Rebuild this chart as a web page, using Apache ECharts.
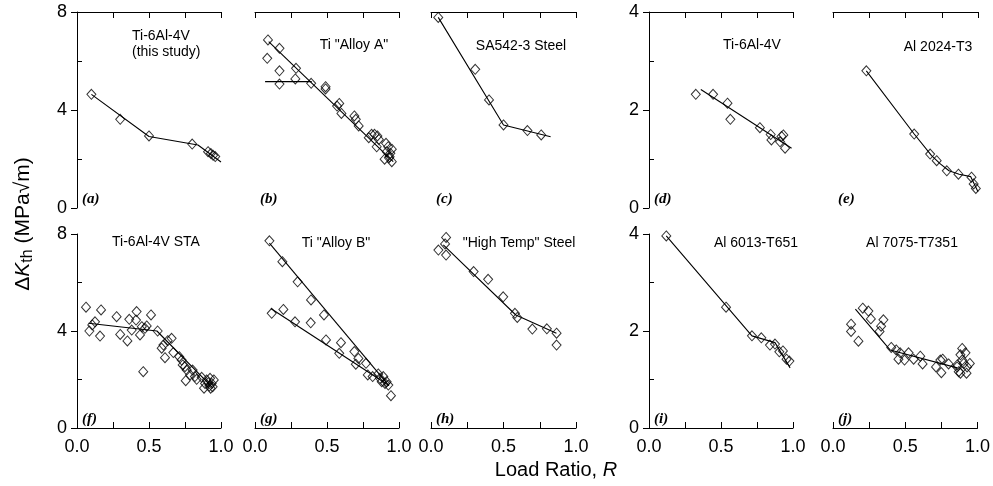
<!DOCTYPE html>
<html>
<head>
<meta charset="utf-8">
<script src="https://cdn.jsdelivr.net/npm/echarts@6/dist/echarts.min.js"></script>
<style>
  html, body { margin: 0; padding: 0; background: #fff; }
  #chart { width: 993px; height: 486px; }
</style>
</head>
<body>
<div id="chart"></div>
<script>
// Threshold stress-intensity range vs. load ratio for ten alloys (a)-(j)

// x tick labels (shared by all panels)
const xTicks = ['0.0', '0.5', '1.0'];

// (a) Ti-6Al-4V (this study)
const ptsA = [[0.10,4.64],[0.30,3.62],[0.50,2.94],[0.80,2.61],[0.91,2.30],[0.93,2.22],[0.945,2.15],[0.96,2.10]];
const fitA = [[0.10,4.64],[0.50,2.92],[0.84,2.57],[1.00,1.88]];

// (b) Ti "Alloy A"
const ptsB = [[0.09,6.86],[0.17,6.52],[0.085,6.11],[0.17,5.60],[0.285,5.70],[0.17,5.06],[0.28,5.27],[0.39,5.09],
  [0.49,4.95],[0.49,4.86],[0.585,4.27],[0.57,4.16],[0.60,3.86],[0.69,3.76],[0.70,3.62],[0.72,3.35],[0.79,2.87],
  [0.81,3.01],[0.83,3.01],[0.845,2.50],[0.85,2.94],[0.86,2.80],[0.91,2.64],[0.925,2.50],[0.915,2.30],[0.94,2.23],
  [0.90,1.99],[0.95,1.89],[0.935,2.09],[0.95,2.40],[0.93,2.05]];
const fitB1 = [[0.095,6.79],[0.96,1.89]];
const fitB2 = [[0.07,5.16],[0.394,5.16]];

// (c) SA542-3 Steel
const ptsC = [[0.05,7.78],[0.305,5.66],[0.40,4.41],[0.50,3.39],[0.665,3.16],[0.76,2.98]];
const fitC = [[0.05,7.78],[0.50,3.39],[0.825,2.91]];

// (d) Ti-6Al-4V
const ptsD = [[0.325,2.32],[0.445,2.32],[0.545,2.14],[0.565,1.81],[0.77,1.64],[0.845,1.50],[0.85,1.39],
  [0.92,1.46],[0.933,1.49],[0.91,1.35],[0.945,1.22]];
const fitD = [[0.36,2.42],[0.99,1.22]];

// (e) Al 2024-T3
const ptsE = [[0.23,2.80],[0.56,1.51],[0.67,1.10],[0.715,0.965],[0.785,0.76],[0.865,0.69],[0.955,0.63],[0.97,0.49],[0.985,0.40]];
const fitE = [[0.23,2.80],[0.56,1.51],[0.68,1.07],[0.74,0.90],[0.80,0.76],[0.87,0.69],[0.95,0.64],[1.00,0.33]];

// (f) Ti-6Al-4V STA
const ptsF = [[0.0625,4.98],[0.086,4.00],[0.125,4.38],[0.106,4.25],[0.167,4.87],[0.16,3.79],[0.275,4.59],[0.30,3.86],
  [0.35,3.59],[0.363,4.48],[0.38,4.04],[0.414,4.80],[0.41,4.45],[0.4375,3.84],[0.45,4.18],[0.46,2.32],[0.472,4.11],
  [0.484,4.21],[0.514,4.66],[0.56,4.00],[0.588,3.29],[0.60,3.42],[0.611,2.90],[0.63,3.60],[0.657,3.70],[0.669,3.11],
  [0.71,2.94],[0.727,2.80],[0.734,2.60],[0.75,2.53],[0.755,1.95],[0.762,2.39],[0.785,2.19],[0.803,2.39],[0.819,2.12],
  [0.831,2.01],[0.866,2.09],[0.882,1.64],[0.889,1.84],[0.90,1.98],[0.912,1.87],[0.919,1.73],[0.924,2.05],[0.928,1.64],
  [0.935,1.84],[0.942,1.70],[0.95,1.98]];
const fitF = [[0.08,4.32],[0.555,4.00],[0.945,1.64]];

// (g) Ti "Alloy B"
const ptsG = [[0.10,7.72],[0.19,6.86],[0.296,6.03],[0.389,5.28],[0.479,4.66],[0.116,4.73],[0.197,4.89],[0.278,4.38],
  [0.387,4.34],[0.493,3.63],[0.597,3.52],[0.585,3.08],[0.69,3.15],[0.718,2.87],[0.70,2.63],[0.771,2.67],[0.783,2.19],
  [0.817,2.12],[0.856,2.23],[0.868,2.05],[0.891,2.12],[0.88,1.91],[0.903,1.84],[0.914,1.91],[0.926,1.77],[0.944,1.33]];
const fitG1 = [[0.10,7.62],[0.93,1.75]];
const fitG2 = [[0.11,4.93],[0.93,1.75]];

// (h) "High Temp" Steel
const ptsH = [[0.104,7.86],[0.097,7.59],[0.051,7.34],[0.104,7.13],[0.294,6.45],[0.394,6.13],[0.498,5.41],
  [0.579,4.73],[0.595,4.56],[0.699,4.08],[0.799,4.09],[0.866,3.91],[0.866,3.42]];
const fitH = [[0.085,7.55],[0.585,4.66],[0.865,3.91]];

// (i) Al 6013-T651
const ptsI = [[0.12,3.96],[0.535,2.49],[0.715,1.90],[0.78,1.86],[0.84,1.71],[0.875,1.73],[0.905,1.57],[0.93,1.59],[0.955,1.42],[0.975,1.38]];
const fitI = [[0.12,3.96],[0.715,1.90],[0.875,1.76],[0.98,1.24]];

// (j) Al 7075-T7351
const ptsJ = [[0.206,2.47],[0.245,2.41],[0.262,2.25],[0.125,2.14],[0.125,1.99],[0.176,1.79],[0.349,2.23],[0.333,2.10],
  [0.322,1.99],[0.403,1.66],[0.4375,1.61],[0.465,1.55],[0.453,1.42],[0.495,1.40],[0.523,1.55],[0.558,1.42],[0.604,1.48],
  [0.62,1.32],[0.713,1.26],[0.743,1.40],[0.759,1.42],[0.75,1.14],[0.80,1.32],[0.859,1.26],[0.87,1.16],[0.894,1.64],
  [0.917,1.55],[0.882,1.51],[0.894,1.40],[0.905,1.33],[0.928,1.26],[0.947,1.33],[0.924,1.13],[0.882,1.13],[0.86,1.30]];
const fitJ = [[0.155,2.45],[0.395,1.61],[0.86,1.24]];

const FONT = '"Liberation Sans", Arial, sans-serif';
const SERIF = '"Liberation Serif", "Times New Roman", serif';

const COLS = [
  { left: 77, width: 144 },
  { left: 255, width: 144 },
  { left: 431, width: 145 },
  { left: 649, width: 144 },
  { left: 833, width: 145 }
];
const ROWS = [
  { top: 12, height: 196 },
  { top: 234, height: 194 }
];

// title anchor: tx/ty with alignment
const panels = [
  { row: 0, col: 0, yMax: 8, yAxis: true,  pts: ptsA, fits: [fitA], tag: '(a)', title: ['Ti-6Al-4V', '(this study)'], tx: 132, ty: 36, align: 'left' },
  { row: 0, col: 1, yMax: 8, yAxis: false, pts: ptsB, fits: [fitB1, fitB2], tag: '(b)', title: ['Ti "Alloy A"'], tx: 354, ty: 45 },
  { row: 0, col: 2, yMax: 8, yAxis: false, pts: ptsC, fits: [fitC], tag: '(c)', title: ['SA542-3 Steel'], tx: 521, ty: 46 },
  { row: 0, col: 3, yMax: 4, yAxis: true,  pts: ptsD, fits: [fitD], tag: '(d)', title: ['Ti-6Al-4V'], tx: 752, ty: 45 },
  { row: 0, col: 4, yMax: 4, yAxis: false, pts: ptsE, fits: [fitE], tag: '(e)', title: ['Al 2024-T3'], tx: 938, ty: 47 },
  { row: 1, col: 0, yMax: 8, yAxis: true,  pts: ptsF, fits: [fitF], tag: '(f)', title: ['Ti-6Al-4V STA'], tx: 156, ty: 242 },
  { row: 1, col: 1, yMax: 8, yAxis: false, pts: ptsG, fits: [fitG1, fitG2], tag: '(g)', title: ['Ti "Alloy B"'], tx: 336, ty: 243 },
  { row: 1, col: 2, yMax: 8, yAxis: false, pts: ptsH, fits: [fitH], tag: '(h)', title: ['"High Temp" Steel'], tx: 519, ty: 243 },
  { row: 1, col: 3, yMax: 4, yAxis: true,  pts: ptsI, fits: [fitI], tag: '(i)', title: ['Al 6013-T651'], tx: 756, ty: 243 },
  { row: 1, col: 4, yMax: 4, yAxis: false, pts: ptsJ, fits: [fitJ], tag: '(j)', title: ['Al 7075-T7351'], tx: 912, ty: 243 }
];

const grid = [], xAxis = [], yAxis = [], series = [], graphic = [];
const lineStyle = { color: '#000', width: 1 };

panels.forEach((p, i) => {
  const c = COLS[p.col], r = ROWS[p.row];
  grid.push({ left: c.left, width: c.width, top: r.top, height: r.height, containLabel: false });

  const bottom = p.row === 1;
  xAxis.push({
    gridIndex: i, type: 'value', min: 0, max: 1, interval: 0.25,
    position: bottom ? 'bottom' : 'top',
    axisLine: { show: true, onZero: false, lineStyle },
    axisTick: { show: true, inside: true, length: 6, lineStyle },
    axisLabel: {
      show: bottom, margin: 10, color: '#000', fontFamily: FONT, fontSize: 18,
      formatter: v => {
        const s = v.toFixed(1);
        return xTicks.indexOf(s) >= 0 && Math.abs(v * 2 - Math.round(v * 2)) < 1e-6 ? s : '';
      }
    },
    splitLine: { show: false }
  });

  // data axis: line, labels and outward major ticks
  const major = p.yMax / 2;
  const yIdx = yAxis.length;
  yAxis.push({
    gridIndex: i, type: 'value', min: 0, max: p.yMax, interval: major, position: 'left',
    show: p.yAxis,
    axisLine: { show: true, onZero: false, lineStyle },
    axisTick: { show: true, inside: false, length: 6, lineStyle },
    axisLabel: { show: true, margin: 10, color: '#000', fontFamily: FONT, fontSize: 18 },
    splitLine: { show: false }
  });
  if (p.yAxis) {
    // inward minor ticks halfway between labels
    const steps = [];
    for (let k = 0; k <= 4; k++) steps.push(String(k * p.yMax / 4));
    yAxis.push({
      gridIndex: i, type: 'category', data: steps, boundaryGap: false, position: 'left',
      axisLine: { show: false },
      axisLabel: { show: false },
      axisTick: { show: true, inside: true, length: 5, lineStyle, interval: k => k % 2 === 1 },
      splitLine: { show: false }
    });
  }

  p.fits.forEach(f => {
    series.push({
      type: 'line', xAxisIndex: i, yAxisIndex: yIdx, data: f,
      showSymbol: false, symbol: 'none', lineStyle: { color: '#000', width: 1.1 },
      silent: true, animation: false, z: 2
    });
  });
  series.push({
    type: 'scatter', xAxisIndex: i, yAxisIndex: yIdx, data: p.pts,
    symbol: 'diamond', symbolSize: [9, 10],
    itemStyle: { color: 'rgba(255,255,255,0)', borderColor: '#000', borderWidth: 1 },
    silent: true, animation: false, z: 3
  });

  // panel title
  p.title.forEach((t, k) => {
    graphic.push({
      type: 'text', x: p.tx, y: p.ty + k * 16,
      style: { text: t, fill: '#000', font: '14px ' + FONT, align: p.align || 'center', verticalAlign: 'middle' }
    });
  });
  // panel tag
  graphic.push({
    type: 'text', x: c.left + 5, y: r.top + r.height - 9,
    style: { text: p.tag, fill: '#000', font: 'italic bold 15px ' + SERIF, align: 'left', verticalAlign: 'middle' }
  });
});

// axis titles
graphic.push({
  type: 'text', x: 23, y: 224, rotation: Math.PI / 2,
  style: {
    text: '{d|Δ}{k|K}{s|th}{a| (MPa√m)}',
    align: 'center', verticalAlign: 'middle',
    rich: {
      d: { fontFamily: FONT, fontSize: 21, fill: '#000' },
      k: { fontFamily: FONT, fontSize: 21, fontStyle: 'italic', fill: '#000' },
      s: { fontFamily: FONT, fontSize: 16, fill: '#000', verticalAlign: 'bottom', padding: [9, 0, 0, 0] },
      a: { fontFamily: FONT, fontSize: 21, fill: '#000' }
    }
  }
});
graphic.push({
  type: 'text', x: 556, y: 470,
  style: {
    text: '{a|Load Ratio, }{r|R}',
    align: 'center', verticalAlign: 'middle',
    rich: {
      a: { fontFamily: FONT, fontSize: 20, fill: '#000' },
      r: { fontFamily: FONT, fontSize: 20, fontStyle: 'italic', fill: '#000' }
    }
  }
});

const chart = echarts.init(document.getElementById('chart'), null, { renderer: 'canvas' });
chart.setOption({
  animation: false,
  backgroundColor: '#fff',
  grid, xAxis, yAxis, series, graphic
});
</script>
</body>
</html>
